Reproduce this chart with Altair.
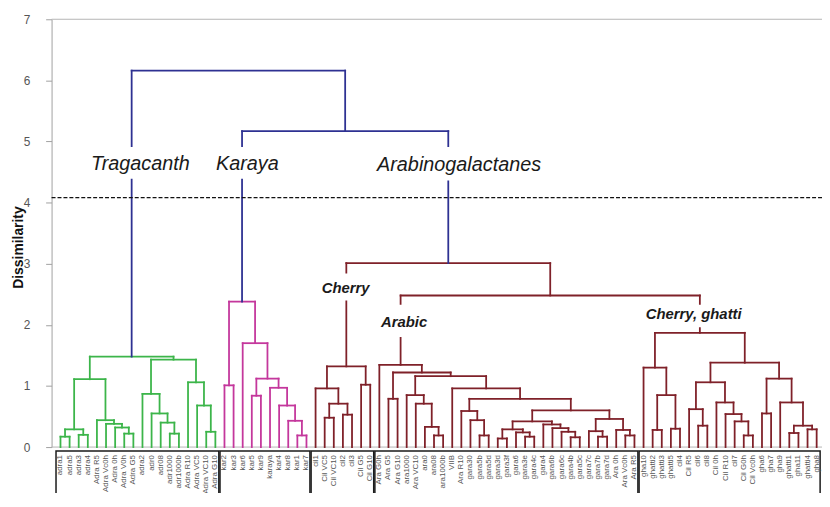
import altair as alt
import pandas as pd

# ---------------- data ----------------
tragacanth_leaves = ["adra1", "adra5", "adra3", "adra4", "Adra R5", "Adra Vc0h", "Adra 0h", "Adra V0h",
                     "Adra G5", "adra2", "adr0", "adr08", "adr1000", "adr1000b", "Adra R10", "Adra VC5",
                     "Adra VC10", "Adra G10"]
karaya_leaves = ["kar2", "kar3", "kar6", "kar5", "kar9", "karaya", "kar4", "kar8", "kar1", "kar7"]
cherry_leaves = ["cil1", "Cil VC5", "Cil VC10", "cil2", "cil3", "Cil G5", "Cil G10"]
arabic_leaves = ["Ara G0h", "Ara G5", "Ara G10", "ara1000", "Ara VC10", "ara0", "ara08", "ara1000b", "VIIB",
                 "Ara R10", "gara30", "gara5b", "gara5d", "gara3d", "gara3f", "gara6", "gara3e", "gara4c",
                 "gara4", "gara6b", "gara6c", "gara4b", "gara5c", "gara7c", "gara7b", "gara7d", "Ara 0h",
                 "Ara Vc0h", "Ara R5"]
ghatti_leaves = ["gha10", "ghatti2", "ghatti3", "ghatti5", "cil4", "Cil R5", "cil6", "cil8", "Cil 0h",
                 "Cil R10", "cil7", "Cil G0h", "Cil Vc0h", "gha6", "gha7", "gha9", "ghatti1", "gha11",
                 "ghatti4", "gha8"]
leaf_groups = [tragacanth_leaves, karaya_leaves, cherry_leaves, arabic_leaves, ghatti_leaves]

# merges: (node, left child, right child, dissimilarity)
tragacanth_merges = [
    ("t1", "adra1", "adra5", 0.17), ("t2", "adra3", "adra4", 0.20), ("t3", "t1", "t2", 0.29),
    ("t4", "Adra V0h", "Adra G5", 0.22), ("t5", "Adra 0h", "t4", 0.32), ("t6", "Adra Vc0h", "t5", 0.38),
    ("t7", "Adra R5", "t6", 0.44), ("t8", "t3", "t7", 1.11),
    ("t9", "adr1000", "adr1000b", 0.22), ("t10", "adr08", "t9", 0.40), ("t11", "adr0", "t10", 0.55),
    ("t12", "adra2", "t11", 0.87), ("t13", "Adra VC10", "Adra G10", 0.25), ("t14", "Adra VC5", "t13", 0.68),
    ("t15", "Adra R10", "t14", 1.06), ("t16", "t12", "t15", 1.43), ("TRAG", "t8", "t16", 1.48),
]
karaya_merges = [
    ("k1", "kar2", "kar3", 1.01), ("k2", "kar1", "kar7", 0.19), ("k3", "kar8", "k2", 0.43),
    ("k4", "kar4", "k3", 0.68), ("k5", "karaya", "k4", 0.97), ("k6", "kar5", "kar9", 0.84),
    ("k7", "k6", "k5", 1.12), ("k8", "kar6", "k7", 1.70), ("KAR", "k1", "k8", 2.38),
]
cherry_merges = [
    ("c1", "Cil VC5", "Cil VC10", 0.48), ("c2", "cil2", "cil3", 0.53), ("c3", "c1", "c2", 0.71),
    ("c4", "cil1", "c3", 0.96), ("c5", "Cil G5", "Cil G10", 1.02), ("CHE", "c4", "c5", 1.32),
]
arabic_merges = [
    ("a1", "Ara G5", "Ara G10", 0.79), ("a2", "ara08", "ara1000b", 0.19), ("a3", "ara0", "a2", 0.33),
    ("a4", "Ara VC10", "a3", 0.71), ("a5", "ara1000", "a4", 0.85), ("a6", "gara5b", "gara5d", 0.19),
    ("a7", "gara30", "a6", 0.44), ("a8", "Ara R10", "a7", 0.59), ("a9", "gara3d", "gara3f", 0.14),
    ("a10", "gara3e", "gara4c", 0.17), ("a11", "gara6", "a10", 0.24), ("a12", "a9", "a11", 0.29),
    ("a13", "gara4b", "gara5c", 0.16), ("a14", "gara6c", "a13", 0.25), ("a15", "gara6b", "a14", 0.31),
    ("a16", "gara4", "a15", 0.37), ("a17", "a12", "a16", 0.42), ("a18", "gara7b", "gara7d", 0.17),
    ("a19", "gara7c", "a18", 0.26), ("a20", "Ara Vc0h", "Ara R5", 0.19), ("a21", "Ara 0h", "a20", 0.28),
    ("a22", "a19", "a21", 0.46), ("a23", "a17", "a22", 0.60), ("a24", "a8", "a23", 0.79),
    ("a25", "VIIB", "a24", 0.96), ("a26", "a5", "a25", 1.16), ("a27", "a1", "a26", 1.22),
    ("ARA", "Ara G0h", "a27", 1.345),
]
ghatti_merges = [
    ("g1", "ghatti2", "ghatti3", 0.28), ("g2", "ghatti5", "cil4", 0.30), ("g3", "g1", "g2", 0.85),
    ("g4", "gha10", "g3", 1.30), ("g5", "cil6", "cil8", 0.35), ("g6", "Cil R5", "g5", 0.62),
    ("g7", "Cil G0h", "Cil Vc0h", 0.19), ("g8", "cil7", "g7", 0.42), ("g9", "Cil R10", "g8", 0.54),
    ("g10", "Cil 0h", "g9", 0.73), ("g11", "g6", "g10", 1.06), ("g12", "gha6", "gha7", 0.55),
    ("g13", "ghatti1", "gha11", 0.23), ("g14", "ghatti4", "gha8", 0.29), ("g15", "g13", "g14", 0.35),
    ("g16", "gha9", "g15", 0.73), ("g17", "g12", "g16", 1.12), ("g18", "g11", "g17", 1.38),
    ("CG", "g4", "g18", 1.87),
]
top_merges = [
    ("ARCG", "ARA", "CG", 2.48), ("ARAB", "CHE", "ARCG", 3.01),
    ("KA", "KAR", "ARAB", 5.17), ("ROOT", "TRAG", "KA", 6.16),
]
merges = tragacanth_merges + karaya_merges + cherry_merges + arabic_merges + ghatti_merges + top_merges

cluster_colors = {"TRAG": "#3cb54a", "KAR": "#c4379c", "ARAB": "#7f2129"}
link_color = "#2e3192"
cut_height = 4.08

# annotations (group names above the cut, sub-group names below)
main_labels = ["Tragacanth", "Karaya", "Arabinogalactanes"]
main_x = [8.77, 20.51, 43.75]
main_y = [4.635, 4.635, 4.62]
sub_labels = ["Cherry", "Arabic", "Cherry, ghatti"]
sub_x = [31.3, 37.72, 69.5]
sub_y = [2.61, 2.04, 2.17]
# white boxes behind annotation texts
mask_x1 = [3.7, 17.07, 34.46, 28.8, 35.43, 64.0]
mask_x2 = [14.0, 24.0, 53.0, 33.8, 40.1, 74.2]
mask_y1 = [4.91, 4.91, 4.91, 2.84, 2.33, 2.33]
mask_y2 = [4.39, 4.39, 4.36, 2.40, 1.80, 1.96]

# ---------------- layout computation ----------------
leaves = [n for g in leaf_groups for n in g]
xpos = {n: float(i) for i, n in enumerate(leaves)}
hgt = {n: 0.0 for n in leaves}
children = {}
for node, a, b, h in merges:
    xpos[node] = (xpos[a] + xpos[b]) / 2
    hgt[node] = h
    children[node] = (a, b)

color_of = {node: link_color for node, _, _, _ in merges}


def paint(n, c):
    color_of[n] = c
    for ch in children.get(n, ()):
        paint(ch, c)


for root, c in cluster_colors.items():
    paint(root, c)

seg_rows = []
for node, a, b, h in merges:
    c = color_of[node]
    seg_rows.append(dict(x=xpos[a], x2=xpos[b], y=h, y2=h, c=c))
    seg_rows.append(dict(x=xpos[a], x2=xpos[a], y=hgt[a], y2=h, c=c))
    seg_rows.append(dict(x=xpos[b], x2=xpos[b], y=hgt[b], y2=h, c=c))
segs = pd.DataFrame(seg_rows)

leaf_df = pd.DataFrame({"label": leaves, "x": [xpos[n] for n in leaves]})

box_rows = []
for g in leaf_groups:
    box_rows.append(dict(x=xpos[g[0]] - 0.49, x2=xpos[g[-1]] + 0.38, y=-0.065, y2=-3.0))
boxes = pd.DataFrame(box_rows)

main_df = pd.DataFrame({"label": main_labels, "x": main_x, "y": main_y})
sub_df = pd.DataFrame({"label": sub_labels, "x": sub_x, "y": sub_y})
mask_df = pd.DataFrame({"mx1": mask_x1, "mx2": mask_x2, "my1": mask_y1, "my2": mask_y2})

# ---------------- chart ----------------
xs = alt.Scale(domain=[-0.978, 83.587], nice=False, zero=False)
ys = alt.Scale(domain=[0, 7], nice=False, zero=False)
yaxis = alt.Axis(values=list(range(8)), tickSize=6, labelPadding=16, labelFontSize=12, labelColor="#555555",
                 labelFont="Liberation Sans", domainColor="#a0a0a0", tickColor="#a0a0a0", grid=False,
                 title="Dissimilarity", titleFontSize=14, titleFontWeight="bold", titleColor="#111111",
                 titleFont="Liberation Sans", titleX=-33, titleY=230, titleAngle=270, titleAlign="center",
                 titleBaseline="middle")


def X(f):
    return alt.X(f, type="quantitative", scale=xs, axis=None)


def Y(f):
    return alt.Y(f, type="quantitative", scale=ys, axis=yaxis)


frame = alt.Chart(pd.DataFrame({"y": [0.0, 7.0]})).mark_rule(color="#b5b5b5", strokeWidth=1).encode(
    y=Y("y"))

links = alt.Chart(segs).mark_rule(strokeWidth=1.8, strokeCap="square").encode(
    x=X("x"), x2="x2", y=Y("y"), y2="y2", color=alt.Color("c:N", scale=None))

cut = alt.Chart(pd.DataFrame({"y": [cut_height]})).mark_rule(
    color="#111111", strokeWidth=1.3, strokeDash=[4, 2]).encode(y=Y("y"))

masks = alt.Chart(mask_df).mark_rect(color="white").encode(x=X("mx1"), x2="mx2", y=Y("my1"), y2="my2")

main_text = alt.Chart(main_df).mark_text(fontStyle="italic", font="Liberation Sans", color="#1a1a1a",
                                         fontSize=20, align="center", baseline="middle").encode(
    x=X("x"), y=Y("y"), text="label:N")

sub_text = alt.Chart(sub_df).mark_text(fontStyle="italic", fontWeight="bold", font="Liberation Sans",
                                       color="#1a1a1a", fontSize=15, align="center",
                                       baseline="middle").encode(
    x=X("x"), y=Y("y"), text="label:N")

box_layer = alt.Chart(boxes).mark_rect(fill=None, filled=False, stroke="#1a1a1a", strokeWidth=1.5).encode(
    x=X("x"), x2="x2", y=Y("y"), y2="y2")

leaf_text = alt.Chart(leaf_df).mark_text(angle=270, align="right", baseline="middle", fontSize=8,
                                         font="Liberation Sans", color="#555555").encode(
    x=X("x"), y=alt.value(440), text="label:N")

chart = alt.layer(frame, links, cut, masks, main_text, sub_text, box_layer, leaf_text).properties(
    width=778, height=432,
    padding={"left": 44, "top": 9, "right": 0, "bottom": 44},
    autosize=alt.AutoSizeParams(type="none"),
    background="white",
).configure_view(stroke=None)

chart.save("out.html", embed_options={"renderer": "svg", "actions": False})
